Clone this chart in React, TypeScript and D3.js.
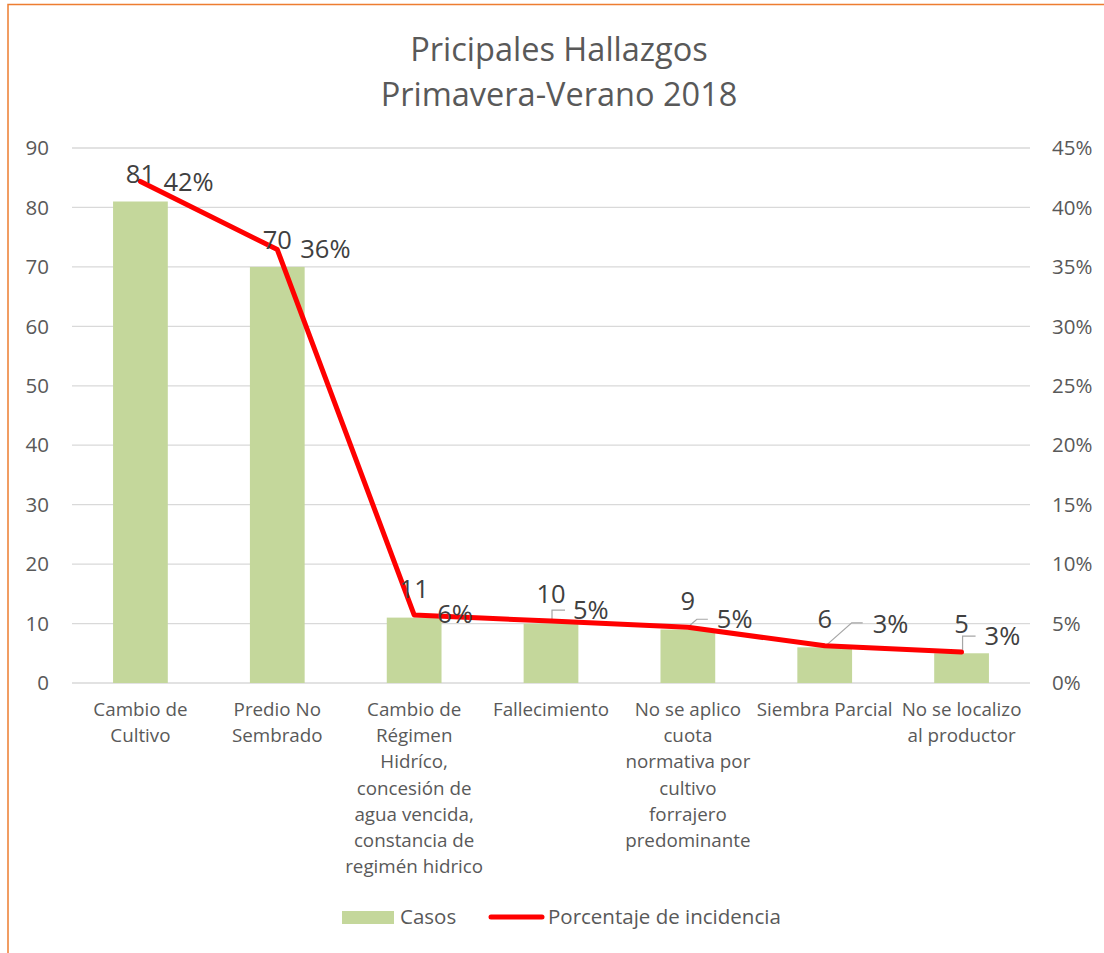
import React from "react";
import * as d3 from "d3";

const categories: string[][] = [
  ["Cambio de", "Cultivo"],
  ["Predio No", "Sembrado"],
  ["Cambio de", "Régimen", "Hidríco,", "concesión de", "agua vencida,", "constancia de", "regimén hidrico"],
  ["Fallecimiento"],
  ["No se aplico", "cuota", "normativa por", "cultivo", "forrajero", "predominante"],
  ["Siembra Parcial"],
  ["No se localizo", "al productor"],
];
const casos: number[] = [81, 70, 11, 10, 9, 6, 5];
const total = d3.sum(casos);
const porcentaje: number[] = casos.map((c) => c / total);
const leftTicks: number[] = [0, 10, 20, 30, 40, 50, 60, 70, 80, 90];
const rightTicks: number[] = [0, 0.05, 0.1, 0.15, 0.2, 0.25, 0.3, 0.35, 0.4, 0.45];

// label layout offsets (relative to line point): [barDx, barDy, pctDx, pctDy]
const labelOffsets: number[][] = [
  [0, 2, 23, 10],
  [0, -1, 23, 8],
  [0, -17, 23, 8],
  [0, -18, 22, -2],
  [0, -17, 29, 1],
  [0, -18, 48, -13],
  [0, -19, 23, -7],
];
// leader lines: null or [ [dx,dy] ... ] relative to point
const leaders: (number[][] | null)[] = [
  null,
  null,
  null,
  [[1, -1], [1, -11], [14, -11]],
  [[1, -1], [9, -8], [20, -8]],
  [[2, -1], [27, -23], [38, -23]],
  [[1, -1], [1, -16], [14, -16]],
];

const FONT = "'Open Sans', sans-serif";
const GRAY = "#595959";

export default function App() {
  const W = 1104, H = 953;
  const left = 72, right = 1030, top = 148, bottom = 683;
  const xc = (i: number) => left + ((right - left) / casos.length) * (i + 0.5);
  const yL = d3.scaleLinear().domain([0, 90]).range([bottom, top]);
  const yR = d3.scaleLinear().domain([0, 0.45]).range([bottom, top]);
  const bw = ((right - left) / casos.length) * 0.4;
  const line = d3.line<number>().x((_, i) => xc(i)).y((d) => yR(d));
  const pctFmt = d3.format(".0%");

  return (
    <svg width={W} height={H} style={{ position: "absolute", left: 0, top: 0, background: "#fff" }} fontFamily={FONT}>
      <rect x={0} y={0} width={W} height={H} fill="#fff" />
      <rect x={8} y={4.5} width={W + 20} height={H + 20} fill="none" stroke="#ED7D31" strokeWidth={1.5} />
      <text x={559} y={61} textAnchor="middle" fontSize={32.5} fill={GRAY}>Pricipales Hallazgos</text>
      <text x={559} y={106} textAnchor="middle" fontSize={32.5} fill={GRAY}>Primavera-Verano 2018</text>
      {leftTicks.map((t) => (
        <g key={"g" + t}>
          <line x1={left} x2={right} y1={yL(t)} y2={yL(t)} stroke="#D9D9D9" strokeWidth={1.3} />
          <text x={49} y={yL(t)} dy="0.35em" textAnchor="end" fontSize={20.5} fill={GRAY}>{t}</text>
        </g>
      ))}
      {rightTicks.map((t) => (
        <text key={"r" + t} x={1052} y={yR(t)} dy="0.35em" textAnchor="start" fontSize={20.5} fill={GRAY}>{pctFmt(t)}</text>
      ))}
      {casos.map((c, i) => (
        <rect key={"b" + i} x={xc(i) - bw / 2} y={yL(c)} width={bw} height={yL(0) - yL(c)} fill="#C4D79B" />
      ))}
      {categories.map((lines, i) => (
        <text key={"c" + i} textAnchor="middle" fontSize={18.8} fill={GRAY}>
          {lines.map((l, j) => (
            <tspan key={j} x={xc(i)} y={716 + j * 26.2}>{l}</tspan>
          ))}
        </text>
      ))}
      {leaders.map((pts, i) =>
        pts ? (
          <polyline key={"l" + i} points={pts.map((p) => `${xc(i) + p[0]},${yR(porcentaje[i]) + p[1]}`).join(" ")} fill="none" stroke="#A6A6A6" strokeWidth={1.2} />
        ) : null
      )}
      <path d={line(porcentaje) || ""} fill="none" stroke="#FF0000" strokeWidth={5} strokeLinejoin="round" strokeLinecap="round" />
      {casos.map((c, i) => (
        <text key={"bl" + i} x={xc(i) + labelOffsets[i][0]} y={yR(porcentaje[i]) + labelOffsets[i][1]} textAnchor="middle" fontSize={25.5} fill="#404040">{c}</text>
      ))}
      {porcentaje.map((p, i) => (
        <text key={"pl" + i} x={xc(i) + labelOffsets[i][2]} y={yR(p) + labelOffsets[i][3]} textAnchor="start" fontSize={25.5} fill="#404040">{pctFmt(p)}</text>
      ))}
      <rect x={342} y={911} width={52} height={13} fill="#C4D79B" />
      <text x={400} y={917} dy="0.35em" fontSize={20.5} fill={GRAY}>Casos</text>
      <line x1={491} x2={542} y1={917} y2={917} stroke="#FF0000" strokeWidth={5} strokeLinecap="round" />
      <text x={548} y={917} dy="0.35em" fontSize={20.5} fill={GRAY}>Porcentaje de incidencia</text>
    </svg>
  );
}
